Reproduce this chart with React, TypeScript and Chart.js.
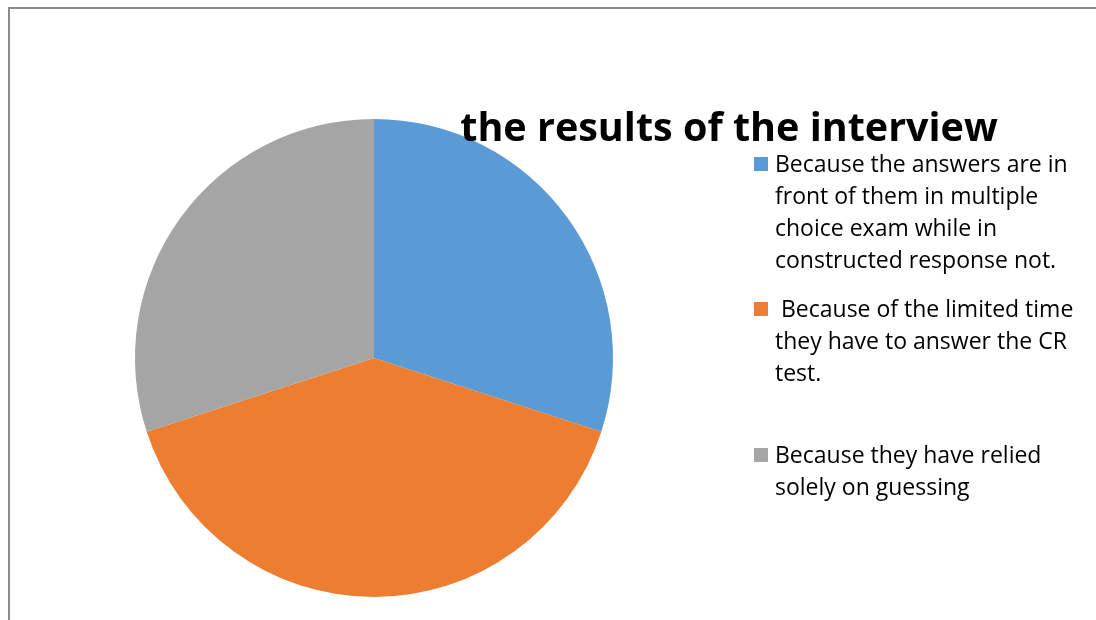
import React, { useEffect, useRef } from "react";
import { Chart, registerables } from "chart.js";

Chart.register(...registerables);

const categories = [
  "Because the answers are in front of them in multiple choice exam while in constructed response not.",
  " Because of the limited time they have to answer the CR test.",
  "Because they have relied solely on guessing",
];
const legendLines = [
  ["Because the answers are in", "front of them in multiple", "choice exam while in", "constructed response not."],
  [" Because of the limited time", "they have to answer the CR", "test."],
  ["Because they have relied", "solely on guessing"],
];
const values = [30, 40, 30];
const colors = ["#5B9BD5", "#ED7D31", "#A5A5A5"];
const titleText = "the results of the interview";

const FONT = "'Open Sans'";

const overlayPlugin = {
  id: "overlay",
  afterDraw(chart: any) {
    const ctx = chart.ctx;
    ctx.save();
    // title
    ctx.fillStyle = "#000";
    ctx.font = `bold 39.5px ${FONT}`;
    ctx.textAlign = "center";
    ctx.textBaseline = "alphabetic";
    ctx.fillText(titleText, 729, 141);
    // legend
    const itemCenters = [164, 309, 455];
    const lineH = 32;
    const ds = chart.data.datasets[0];
    ctx.font = `23px ${FONT}`;
    ctx.textAlign = "left";
    legendLines.forEach((lines, i) => {
      const y0 = itemCenters[i];
      ctx.fillStyle = ds.backgroundColor[i];
      ctx.fillRect(754, y0 - 7, 14, 14);
      ctx.fillStyle = "#000";
      lines.forEach((ln, j) => {
        ctx.fillText(ln, 775, y0 + 8 + j * lineH);
      });
    });
    ctx.restore();
  },
};

export default function App() {
  const ref = useRef<HTMLCanvasElement | null>(null);
  useEffect(() => {
    if (!ref.current) return;
    const chart = new Chart(ref.current, {
      type: "pie",
      data: {
        labels: categories,
        datasets: [
          {
            data: values,
            backgroundColor: colors,
            borderWidth: 0,
          },
        ],
      },
      options: {
        animation: false,
        responsive: false,
        layout: { padding: { left: 135, right: 483, top: 119, bottom: 23 } },
        plugins: {
          legend: { display: false },
          title: { display: false },
          tooltip: { enabled: false },
        },
      },
      plugins: [overlayPlugin],
    });
    return () => chart.destroy();
  }, []);
  return (
    <div style={{ position: "fixed", left: 0, top: 0, width: 1096, height: 620, background: "#fff" }}>
      <div
        style={{
          position: "absolute",
          left: 8,
          top: 7,
          width: 1096,
          height: 620,
          borderTop: "2px solid #8c8c8c",
          borderLeft: "2px solid #8c8c8c",
        }}
      />
      <canvas ref={ref} width={1096} height={620} style={{ position: "absolute", left: 0, top: 0 }} />
    </div>
  );
}
